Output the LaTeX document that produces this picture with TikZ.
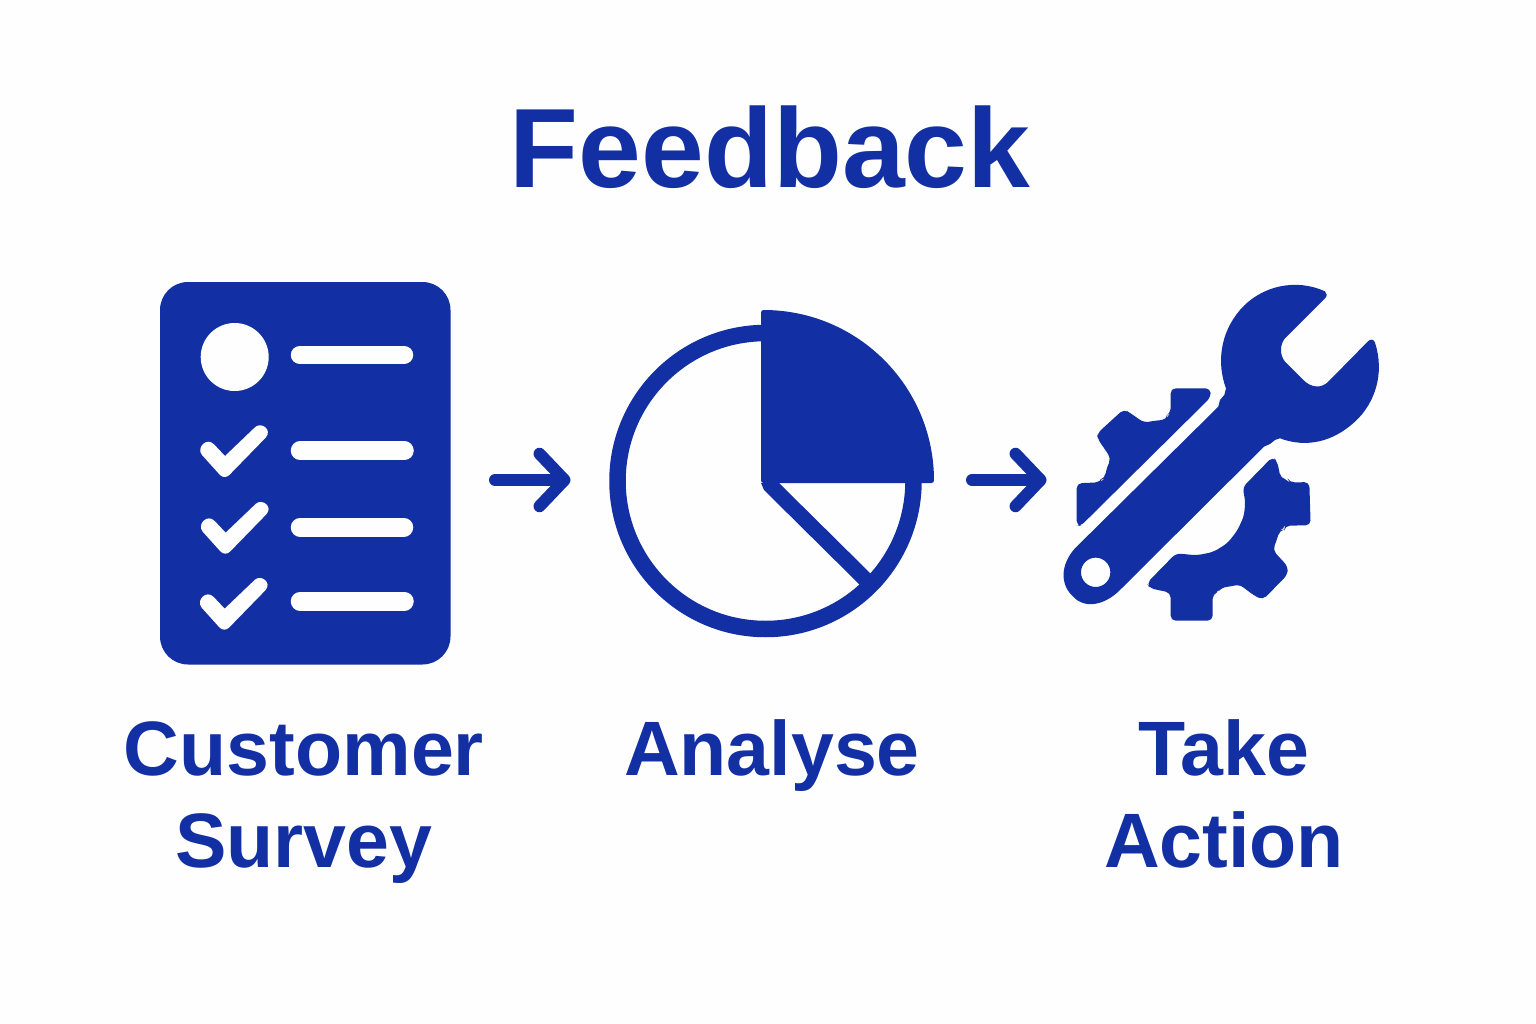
\documentclass[tikz,border=0pt]{standalone}
\usepackage{fontspec}
\setmainfont{Liberation Sans}
\usetikzlibrary{arrows.meta}
\definecolor{brandblue}{HTML}{122FA3}
\definecolor{paper}{HTML}{FEFEFE}
\tikzset{
  titletext/.style={text=brandblue,font=\fontsize{64.2pt}{70pt}\selectfont\bfseries,anchor=base,inner sep=0pt},
  labeltext/.style={text=brandblue,font=\fontsize{43.9pt}{50pt}\selectfont\bfseries,anchor=base,inner sep=0pt},
  solidblue/.style={fill=brandblue,draw=none},
  barline/.style={draw=paper,line width=0.37cm,line cap=round},
  checkmark/.style={fill=paper,draw=none},
  flowarrow/.style={draw=brandblue,line width=0.24cm,line cap=round,line join=round,
    -{Straight Barb[round,length=0.5cm,width=1.05cm,line width=0.24cm]}},
}
\begin{document}
\begin{tikzpicture}[x=0.02cm,y=-0.02cm]
\path[use as bounding box,fill=paper] (0,0) rectangle (1536,1024);

% title
\node[titletext] (title) at (770,188) {Feedback};

% survey icon
\path[solidblue,rounded corners=0.56cm] (160,282) rectangle (450.5,664.5);
\fill[paper] (234.7,357) circle (34);
\draw[barline] (300,355) -- (404,355);
\draw[barline] (300,450.7) -- (404.5,450.7);
\draw[barline] (300,527.3) -- (404,527.3);
\draw[barline] (300,601.3) -- (404.5,601.3);
\begin{scope}[shift={(150,275)},x=0.0066667cm,y=-0.0066667cm]
\foreach \dx/\dy in {0/0,2/230,-1/458}{
  \path[checkmark,shift={(\dx,\dy)}]
    (225,543) -- (316,456) .. controls (335,440) and (368,465) .. (347,488)
    -- (238,600) .. controls (230,608) and (218,608) .. (210,600)
    -- (156,540) .. controls (138,518) and (170,485) .. (192,508) -- cycle;
}
\end{scope}

% pie icon
\draw[draw=brandblue,line width=0.33cm] (765.5,481) circle (148);
\path[fill=brandblue,draw=brandblue,line width=0.1cm,line join=round]
  (763.5,480.5) -- (763.5,312.5) .. controls (856.3,312.5) and (931.5,387.7) .. (931.5,480.5) -- cycle;
\path[solidblue] (761,483) -- (779,483) -- (872,575) -- (860,585) -- (764,490) -- cycle;

% wrench and gear, traced
\begin{scope}[shift={(1040,270)},x=0.0066667cm,y=-0.0066667cm]
\path[solidblue,even odd rule]
  (855,64) .. controls (862,70) and (862,78) .. (855,85)
  -- (735,205) .. controls (720,222) and (718,255) .. (735,275)
  -- (790,330) .. controls (815,355) and (845,355) .. (865,335)
  -- (985,213) .. controls (992,206) and (1002,208) .. (1005,218)
  .. controls (1035,310) and (1005,400) .. (945,455)
  .. controls (880,515) and (800,535) .. (720,505)
  -- (705,510) -- (690,522) -- (672,530)
  -- (240,960) .. controls (190,1010) and (130,1015) .. (100,980)
  .. controls (60,945) and (60,885) .. (105,835)
  -- (535,410) -- (540,390) -- (553,375) -- (558,355)
  .. controls (530,280) and (540,190) .. (600,120)
  .. controls (665,45) and (770,25) .. (855,64) -- cycle
  (211,907) arc[start angle=0,end angle=360,radius=44];
\path[solidblue,rounded corners=0.1cm]
  (512,355) -- (512,382) -- (122,768) -- (110,768) -- (110,640) -- (180,637)
  -- (185,628) -- (195,625) -- (198,600) -- (213,565)
  -- (172,505) -- (172,490) -- (252,417) -- (272,430) -- (312,458)
  -- (345,452) -- (380,449)
  -- (382,435) -- (392,428) -- (392,355) -- cycle;
\path[solidblue,rounded corners=0.1cm]
  (608,652) -- (698,560) -- (712,575) -- (722,625) -- (745,630) -- (750,638)
  -- (808,636) -- (812,766) -- (735,767) -- (733,778) -- (718,782)
  -- (710,812) -- (698,840)
  -- (744,890) -- (742,915) -- (668,990) -- (640,975) -- (598,943)
  -- (570,950) -- (545,952)
  -- (535,965) -- (518,972) -- (518,1052) -- (392,1052) -- (392,968)
  -- (330,955) -- (320,940) -- (408,850)
  -- (470,856) -- (520,846) -- (562,820) -- (592,782) -- (612,738) -- (616,695) -- cycle;
\end{scope}

% connectors
\coordinate (surveyout) at (495,480);
\coordinate (pieside) at (570.5,480);
\coordinate (pieout) at (972,480);
\coordinate (wrenchside) at (1046.5,480);
\draw[flowarrow] (surveyout) -- (pieside);
\draw[flowarrow] (pieout) -- (wrenchside);

% labels
\node[labeltext] (customer) at (304,775) {Customer};
\node[labeltext] (survey) at (304,867) {Survey};
\node[labeltext] (analyse) at (772,775) {Analyse};
\node[labeltext] (take) at (1224,775) {Take};
\node[labeltext] (action) at (1224,867) {Action};
\end{tikzpicture}
\end{document}
